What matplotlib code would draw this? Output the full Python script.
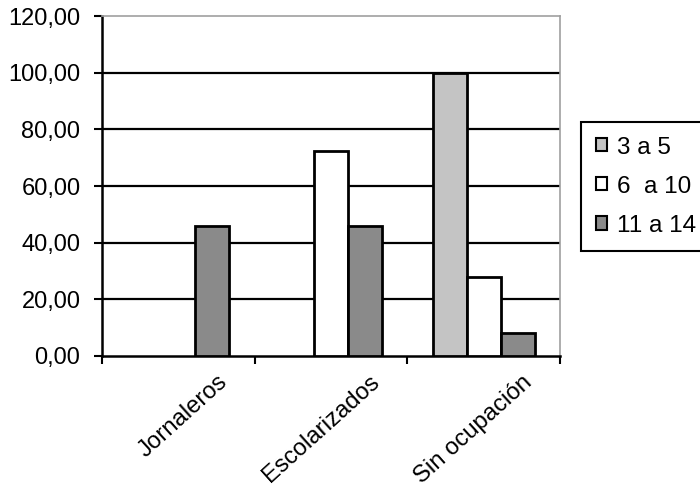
import matplotlib
matplotlib.use("Agg")
import matplotlib.pyplot as plt
import matplotlib.transforms as mtransforms
import numpy as np

categories = ["Jornaleros", "Escolarizados", "Sin ocupación"]
series_names = ["3 a 5", "6  a 10", "11 a 14"]
v_3a5 = [0, 0, 100]
v_6a10 = [0, 72.5, 27.8]
v_11a14 = [46, 46, 8]
colors = ["#c4c4c4", "#ffffff", "#8a8a8a"]

plt.rcParams['font.family'] = ['Liberation Sans', 'DejaVu Sans']

fig = plt.figure(figsize=(7.0, 4.93), dpi=100)
ax = fig.add_axes([0.1457, 0.2779, 0.6543, 0.6896])

x = np.arange(len(categories))
w = 2 / 9.0
values = [v_3a5, v_6a10, v_11a14]
for i, (vals, name, col) in enumerate(zip(values, series_names, colors)):
    lw = [2 if v > 0 else 0 for v in vals]
    ax.bar(x + (i - 1) * w, vals, w, color=col, edgecolor="black",
           linewidth=lw, label=name, zorder=3)

# lineas de la grilla
for yv in range(20, 120, 20):
    ax.axhline(yv, color="black", linewidth=1.6, zorder=1)

ax.set_ylim(0, 120)
ax.set_xlim(-0.5, 2.5)
ax.set_yticks(np.arange(0, 121, 20))
ax.set_yticklabels(["%d,00" % v for v in range(0, 121, 20)], fontsize=17)

ax.set_xticks([-0.5, 0.5, 1.5, 2.5])
ax.set_xticklabels([])
ax.tick_params(axis="x", which="major", direction="out", length=6, width=1.5)
ax.tick_params(axis="y", direction="out", length=6, width=1.5, pad=9.5)

# etiquetas de categorias giradas (como Excel)
off = mtransforms.ScaledTranslation(0.53, -0.15, fig.dpi_scale_trans)
for xi, cat in zip(x, categories):
    ax.text(xi, 0, cat, transform=ax.get_xaxis_transform() + off,
            rotation=42, ha="right", va="top", fontsize=17.2)

ax.spines["left"].set_linewidth(1.8)
ax.spines["bottom"].set_linewidth(1.8)
ax.spines["top"].set_color("#a0a0a0")
ax.spines["right"].set_color("#a0a0a0")
ax.spines["top"].set_linewidth(1.2)
ax.spines["right"].set_linewidth(1.2)

leg = fig.legend(loc="upper left", bbox_to_anchor=(0.83, 0.7525), fontsize=17.5,
                 handlelength=0.45, handleheight=0.45, handletextpad=0.45,
                 labelspacing=0.7, borderpad=0.6, borderaxespad=0,
                 fancybox=False, edgecolor="black", framealpha=1)
leg.get_frame().set_linewidth(1.5)
for h in leg.legend_handles:
    h.set_linewidth(1.5)
    h.set_edgecolor("black")

fig.savefig("out.png", dpi=100)
